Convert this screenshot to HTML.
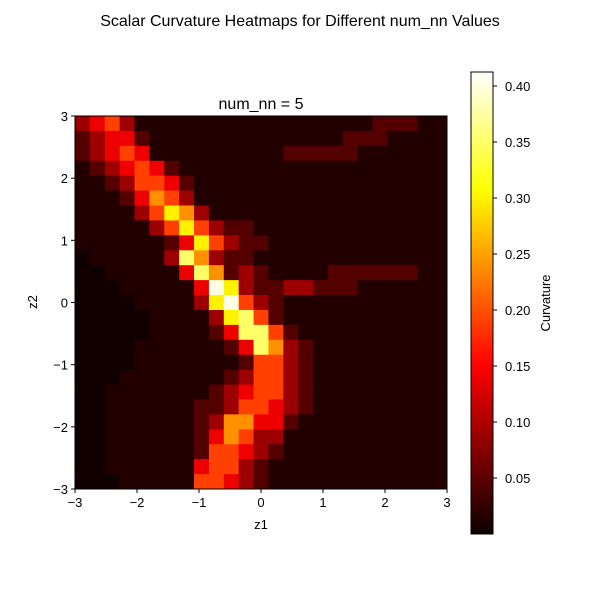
<!DOCTYPE html>
<html><head><meta charset="utf-8">
<style>
body{margin:0;background:#fff;}
svg text{font-family:"Liberation Sans",sans-serif;fill:#000;}
</style></head>
<body>
<svg id="chart" width="600" height="600" viewBox="0 0 600 600" xmlns="http://www.w3.org/2000/svg">
<defs>
<linearGradient id="hotgrad" x1="0" y1="1" x2="0" y2="0">
<stop offset="0" stop-color="#0b0000"/>
<stop offset="0.365" stop-color="#ff0000"/>
<stop offset="0.746" stop-color="#ffff00"/>
<stop offset="1" stop-color="#ffffff"/>
</linearGradient>
</defs>
<text x="300" y="26" font-size="16" text-anchor="middle">Scalar Curvature Heatmaps for Different num_nn Values</text>
<text x="261" y="109" font-size="16" text-anchor="middle">num_nn = 5</text>
<g id="cells"></g>
<rect x="75" y="116" width="372" height="373" fill="none" stroke="#000" stroke-width="1"/>
<g id="xticks"></g>
<g id="yticks"></g>
<text x="261" y="529" font-size="13" text-anchor="middle">z1</text>
<text x="37" y="302" font-size="13" text-anchor="middle" transform="rotate(-90 37 302)">z2</text>
<rect x="471" y="72" width="22" height="462" fill="url(#hotgrad)" stroke="#000" stroke-width="1"/>
<g id="cbticks"></g>
<text x="550" y="303" font-size="13" text-anchor="middle" transform="rotate(-90 550 303)">Curvature</text>
</svg>
<script>
// Heatmap rows (top = z2 = 3), digit levels 0-9
const rows = [
"3453111111111111111122211",
"2344211111111111112221111",
"2345411111111122222111111",
"1234542111111111111111111",
"1123554211111111111111111",
"1112465311111111111111111",
"1111357631111111111111111",
"1111135753221111111111111",
"1111112475322111111111111",
"0111113863221111111111111",
"0011111486232111122222211",
"0001111149732233222111111",
"0000111137953211111111111",
"0000011113785211111111111",
"0000011112488521111111111",
"0000111111248632111111111",
"0000111111125532111111111",
"0001111111235532111111111",
"0011111112345532111111111",
"0011111122355432111111111",
"0011111123664421111111111",
"0011111124653311111111111",
"0011111125543211111111111",
"0011111145532111111111111",
"0001111155432111111111111"
];
const levels = [0.004,0.015,0.045,0.09,0.14,0.19,0.24,0.30,0.35,0.40];
const xTicks = [-3,-2,-1,0,1,2,3];
const yTicks = [-3,-2,-1,0,1,2,3];
const cbTicks = [0.05,0.10,0.15,0.20,0.25,0.30,0.35,0.40];
const cbLabels = ["0.05","0.10","0.15","0.20","0.25","0.30","0.35","0.40"];

const NS="http://www.w3.org/2000/svg";
const X0=75,X1=447,Y0=116,Y1=489, VMIN=0, VMAX=0.4125;
const xs=v=>X0+(v+3)/6*(X1-X0);
const ys=v=>Y1-(v+3)/6*(Y1-Y0);
const cbY=v=>534-(v-VMIN)/(VMAX-VMIN)*462;
function hot(v){
  let t=Math.max(0,Math.min(1,(v-VMIN)/(VMAX-VMIN)));
  let r=Math.min(1,0.0416+t/0.365*(1-0.0416)), g=Math.max(0,Math.min(1,(t-0.365)/0.381)), b=Math.max(0,Math.min(1,(t-0.746)/0.254));
  return `rgb(${Math.round(r*255)},${Math.round(g*255)},${Math.round(b*255)})`;
}
const cells=document.getElementById('cells');
const nr=rows.length;
rows.forEach((row,ri)=>{
  const nc=row.length;
  for(let ci=0;ci<nc;ci++){
    const v=levels[+row[ci]];
    const zx0=-3+ci*6/nc, zx1=-3+(ci+1)*6/nc;
    const zy1=3-ri*6/nr, zy0=3-(ri+1)*6/nr;
    const r=document.createElementNS(NS,'rect');
    r.setAttribute('x',xs(zx0)); r.setAttribute('y',ys(zy1));
    r.setAttribute('width',xs(zx1)-xs(zx0)+0.4); r.setAttribute('height',ys(zy0)-ys(zy1)+0.4);
    r.setAttribute('fill',hot(v));
    
    
    cells.appendChild(r);
  }
});
const gx=document.getElementById('xticks');
xTicks.forEach(t=>{
  const l=document.createElementNS(NS,'line');
  l.setAttribute('x1',xs(t));l.setAttribute('x2',xs(t));l.setAttribute('y1',Y1);l.setAttribute('y2',Y1+4);l.setAttribute('stroke','#000');
  
  
  gx.appendChild(l);
  const tx=document.createElementNS(NS,'text');
  tx.setAttribute('x',xs(t));tx.setAttribute('y',Y1+18);tx.setAttribute('font-size','13');tx.setAttribute('text-anchor','middle');
  tx.textContent=(t<0?'\u2212'+(-t):''+t);
  
  
  gx.appendChild(tx);
});
const gy=document.getElementById('yticks');
yTicks.forEach(t=>{
  const l=document.createElementNS(NS,'line');
  l.setAttribute('x1',X0-4);l.setAttribute('x2',X0);l.setAttribute('y1',ys(t));l.setAttribute('y2',ys(t));l.setAttribute('stroke','#000');
  
  
  gy.appendChild(l);
  const tx=document.createElementNS(NS,'text');
  tx.setAttribute('x',X0-7);tx.setAttribute('y',ys(t)+5);tx.setAttribute('font-size','13');tx.setAttribute('text-anchor','end');
  tx.textContent=(t<0?'\u2212'+(-t):''+t);
  
  
  gy.appendChild(tx);
});
const gc=document.getElementById('cbticks');
cbTicks.forEach((t,i)=>{
  const l=document.createElementNS(NS,'line');
  l.setAttribute('x1',493);l.setAttribute('x2',497);l.setAttribute('y1',cbY(t));l.setAttribute('y2',cbY(t));l.setAttribute('stroke','#000');
  
  
  gc.appendChild(l);
  const tx=document.createElementNS(NS,'text');
  tx.setAttribute('x',505);tx.setAttribute('y',cbY(t)+5);tx.setAttribute('font-size','13');
  tx.textContent=cbLabels[i];
  
  
  gc.appendChild(tx);
});
</script>
</body></html>
